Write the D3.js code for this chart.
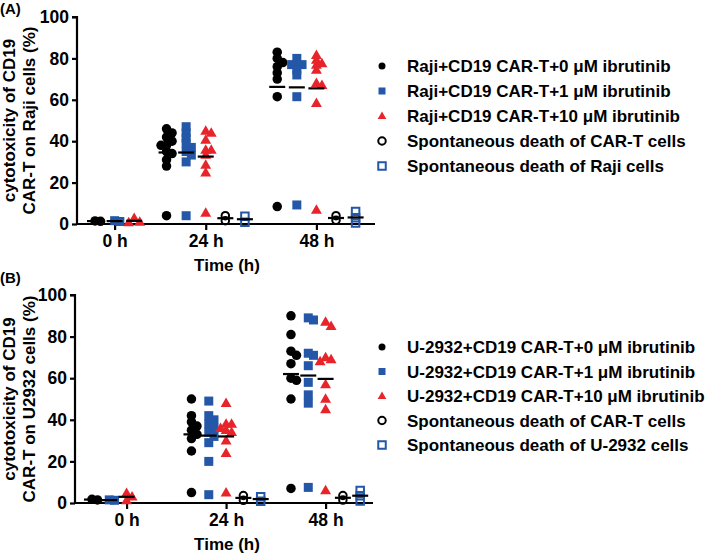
<!DOCTYPE html>
<html><head><meta charset="utf-8">
<script src="https://cdn.jsdelivr.net/npm/d3@7"></script>
<style>
body{margin:0;background:#fff}
text{font-family:"Liberation Sans",Arial,Helvetica,sans-serif;font-weight:bold;fill:#000}
</style>
</head><body>
<svg id="chart" width="709" height="554"></svg>
<script>
// ---------- data ----------
const timeLabels = ["0 h", "24 h", "48 h"];
const yTicks = [0, 20, 40, 60, 80, 100];
const seriesKeys = ["c0", "c1", "c10", "spCar", "spTarget"];

const legendA = ["Raji+CD19 CAR-T+0 \u03bcM ibrutinib", "Raji+CD19 CAR-T+1 \u03bcM ibrutinib",
  "Raji+CD19 CAR-T+10 \u03bcM ibrutinib", "Spontaneous death of CAR-T cells", "Spontaneous death of Raji cells"];
const legendB = ["U-2932+CD19 CAR-T+0 \u03bcM ibrutinib", "U-2932+CD19 CAR-T+1 \u03bcM ibrutinib",
  "U-2932+CD19 CAR-T+10 \u03bcM ibrutinib", "Spontaneous death of CAR-T cells", "Spontaneous death of U-2932 cells"];

// Panel A values: [0 h, 24 h, 48 h] ; null = not measured
const A_c0 = [[1.3, 1.5], [46, 44, 42, 40, 38, 38, 35, 34, 31, 28, 4], [83, 80, 78, 76, 73, 70, 61.5, 8.4]];
const A_c1 = [[1.2, 1.6], [47, 44, 41.5, 39, 37, 35, 33.3, 30, 4], [80, 77, 77, 77, 74.4, 72, 61.5, 9.2]];
const A_c10 = [[2.8, 1.0, 0.8], [45, 44, 40.6, 35.8, 35.8, 33.3, 28.5, 24.8, 5.3], [81.6, 79.2, 77.6, 76.8, 74.4, 68, 67, 58.3, 6.8]];
const A_spCar = [null, [4, 1.6], [4, 1.8]];
const A_spTarget = [null, [3.8, 0.8], [6, 3, 0.5]];

// Panel B values
const B_c0 = [[1.5, 1.8], [50, 42, 39, 37, 35, 33, 31, 25, 5], [90, 81, 73, 71, 67, 60, 59, 50, 7]];
const B_c1 = [[1.5, 1.3], [49, 42, 40, 38, 36, 34, 32, 29, 20, 4], [88, 89, 72, 71, 66, 58, 52, 48, 7.5]];
const B_c10 = [[4.7, 3, 1.2], [48, 38, 38, 36, 35, 34, 30, 24, 5], [85, 87, 70, 69, 68, 57, 50, 45, 6]];
const B_spCar = [null, [3.6, 1.3], [3.6, 1.4]];
const B_spTarget = [null, [3, 0.8], [6, 3.5, 1]];

// ---------- styles ----------
const BLUE = "#2457a7", RED = "#e8242b";
const styles = {
  c0: {shape: "circle", fill: "#000", stroke: "none"},
  c1: {shape: "square", fill: BLUE, stroke: "none"},
  c10: {shape: "triangle", fill: RED, stroke: "none"},
  spCar: {shape: "circle", fill: "none", stroke: "#000"},
  spTarget: {shape: "square", fill: "none", stroke: BLUE}
};
const FONT = "'Liberation Sans',Arial,sans-serif";

const svg = d3.select("#chart");

function symbolPath(shape, size) {
  if (shape === "circle") { const r = size / 2; return `M${-r},0a${r},${r} 0 1,0 ${2*r},0a${r},${r} 0 1,0 ${-2*r},0Z`; }
  if (shape === "square") { const h = size / 2; return `M${-h},${-h}h${size}v${size}h${-size}Z`; }
  const w = size * 1.15, ht = w * 0.87;
  return `M0,${-ht*0.6}L${w/2},${ht*0.4}L${-w/2},${ht*0.4}Z`;
}

function drawPanel(cfg) {
  const g = svg.append("g");
  const y = d3.scaleLinear().domain([0, 100]).range([cfg.y0, cfg.y100]);

  const colPos = [];
  let start = 0;
  cfg.groupCols.forEach(n => {
    colPos.push(d3.range(n).map(i => start + i));
    start += n - 1 + cfg.gap;
  });
  const x = d3.scaleLinear().domain(cfg.slotDomain).range([cfg.axisLeft, cfg.axisRight]);

  // axes
  const yAxis = d3.axisLeft(y).tickValues(yTicks).tickSize(5).tickPadding(3);
  const ya = g.append("g").attr("transform", `translate(${cfg.axisLeft},0)`).call(yAxis);
  ya.select(".domain").attr("stroke-width", 2.2).attr("d", `M-5,${cfg.y100}H0V${cfg.y0}`);
  ya.selectAll(".tick line").attr("stroke-width", 2.2);
  ya.selectAll("text").style("font-size", "17.5px").style("font-family", FONT).style("font-weight", "bold");

  const tickSlots = cfg.tickCol.map((c, gi) => colPos[gi][c]);
  const xAxis = d3.axisBottom(x).tickValues(tickSlots).tickFormat((d, i) => timeLabels[i]).tickSize(6).tickPadding(5);
  const xa = g.append("g").attr("transform", `translate(0,${cfg.y0})`).call(xAxis);
  xa.select(".domain").attr("stroke-width", 2.2).attr("d", `M${cfg.axisLeft},0H${cfg.axisRight}`);
  xa.selectAll(".tick line").attr("stroke-width", 2.2);
  xa.selectAll("text").style("font-size", "17.5px").style("font-family", FONT).style("font-weight", "bold");

  // points (deterministic beeswarm spreading of overlapping values)
  const sizes = {c0: 9.5, c1: 9, c10: 9.5, spCar: 8.5, spTarget: 8.5};
  const meanLines = [];
  cfg.series.forEach((vals, si) => {
    const key = seriesKeys[si];
    const st = styles[key];
    vals.forEach((arr, ti) => {
      if (!arr) return;
      const cx = x(colPos[ti][si]);
      const size = sizes[key];
      const step = size * 0.58, dyTh = size * 0.5;
      const placed = [];
      const sorted = arr.slice().sort((a, b) => b - a);
      sorted.forEach(v => {
        const py = y(v);
        const cands = [0, 1, -1, 2, -2, 3, -3];
        let off = 0;
        for (const k of cands) {
          const px = k * step;
          if (!placed.some(p => Math.abs(p.y - py) < dyTh && Math.abs(p.x - px) < step * 0.9)) { off = px; break; }
        }
        placed.push({x: off, y: py});
        g.append("path")
          .attr("d", symbolPath(st.shape, st.fill === "none" ? size - 1 : size))
          .attr("transform", `translate(${cx + off},${py})`)
          .attr("fill", st.fill).attr("stroke", st.stroke)
          .attr("stroke-width", st.fill === "none" ? 2 : 0);
      });
      meanLines.push({cx, m: d3.mean(arr)});
    });
  });
  g.selectAll(".mean").data(meanLines).join("line")
    .attr("x1", d => d.cx - 8).attr("x2", d => d.cx + 8)
    .attr("y1", d => y(d.m)).attr("y2", d => y(d.m))
    .attr("stroke", "#000").attr("stroke-width", 2.2);

  // axis titles
  const yc = (cfg.y0 + cfg.y100) / 2;
  cfg.yTitle.forEach((t, i) => {
    g.append("text").attr("transform", `translate(${cfg.yTitleX[i]},${yc}) rotate(-90)`)
      .attr("text-anchor", "middle").style("font-size", "17px").text(t);
  });
  g.append("text").attr("x", cfg.xTitleX).attr("y", cfg.xTitleY).attr("text-anchor", "middle")
    .style("font-size", "17px").text("Time (h)");
  g.append("text").attr("x", 0).attr("y", cfg.tagY).style("font-size", "15px").text(cfg.tag);

  // legend
  cfg.legend.forEach((t, i) => {
    const ly = cfg.legendY + i * cfg.legendStep;
    const st = styles[seriesKeys[i]];
    const ls = st.shape === "triangle" ? 7.5 : (st.fill === "none" ? 7.5 : 7);
    g.append("path").attr("d", symbolPath(st.shape, ls))
      .attr("transform", `translate(${cfg.legendX},${ly})`)
      .attr("fill", st.fill).attr("stroke", st.stroke).attr("stroke-width", st.fill === "none" ? 2 : 0);
    g.append("text").attr("x", cfg.legendX + 25).attr("y", ly).attr("dy", "0.36em")
      .style("font-size", "17px").text(t);
  });
}

drawPanel({
  tag: "(A)", tagY: 14,
  y0: 224, y100: 17, axisLeft: 77, axisRight: 375,
  groupCols: [3, 5, 5], gap: 1.65, tickCol: [1, 2, 2], slotDomain: [-0.92, 14.29],
  series: [A_c0, A_c1, A_c10, A_spCar, A_spTarget],
  yTitle: ["cytotoxicity of CD19", "CAR-T on Raji cells (%)"], yTitleX: [15, 35],
  xTitleX: 227, xTitleY: 271,
  legend: legendA, legendX: 382, legendY: 66, legendStep: 25
});
drawPanel({
  tag: "(B)", tagY: 283,
  y0: 503, y100: 295, axisLeft: 75, axisRight: 373,
  groupCols: [5, 5, 5], gap: 1.75, tickCol: [2, 2, 2], slotDomain: [-0.98, 16.24],
  series: [B_c0, B_c1, B_c10, B_spCar, B_spTarget],
  yTitle: ["cytotoxicity of CD19", "CAR-T on U2932 cells (%)"], yTitleX: [15, 35],
  xTitleX: 227, xTitleY: 550,
  legend: legendB, legendX: 382, legendY: 347, legendStep: 24.5
});
</script>
</body></html>
